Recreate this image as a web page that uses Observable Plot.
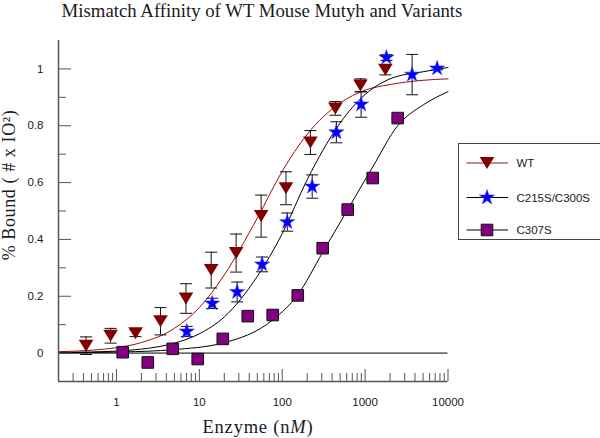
<!DOCTYPE html>
<html><head><meta charset="utf-8">
<script src="https://cdn.jsdelivr.net/npm/d3@7"></script>
<script src="https://cdn.jsdelivr.net/npm/@observablehq/plot@0.6"></script>
<style>
html,body{margin:0;padding:0;background:#fff;}
#wrap{position:relative;width:600px;height:438px;overflow:hidden;}
#wrap > svg{position:absolute;left:0;top:0;}
</style></head><body><div id="wrap"></div>
<script>
// ---- data ----
const seriesNames = ["WT", "C215S/C300S", "C307S"];

const wtConc  = [0.43, 0.85, 1.7, 3.4, 6.9, 13.9, 27.8, 55.7, 111, 219, 438, 878, 1757];
const wtBound = [0.026, 0.061, 0.07, 0.112, 0.192, 0.292, 0.352, 0.482, 0.58, 0.741, 0.861, 0.942, 0.997];
const wtErr   = [0.031, 0.026, 0.012, 0.048, 0.052, 0.063, 0.067, 0.074, 0.058, 0.042, 0.024, 0.023, 0.018];

const dmConc  = [7.05, 14.3, 28.6, 57.2, 115, 230, 450, 895, 1807, 3690, 7390];
const dmBound = [0.076, 0.175, 0.215, 0.312, 0.461, 0.586, 0.777, 0.875, 1.04, 0.98, 1.002];
const dmErr   = [0.018, 0.018, 0.035, 0.026, 0.032, 0.041, 0.037, 0.045, 0.01, 0.071, 0.005];

const c307Conc  = [1.19, 2.39, 4.78, 9.57, 19.2, 38.4, 76.8, 154, 308, 617, 1235, 2473];
const c307Bound = [0.003, -0.033, 0.015, -0.021, 0.05, 0.13, 0.134, 0.203, 0.369, 0.505, 0.616, 0.827];
const c307Err   = [0.004, 0.006, 0.004, 0.007, 0.005, 0.006, 0.004, 0.005, 0.006, 0.006, 0.006, 0.004];

// fitted curves
const wtFitConc  = [0.2, 0.5, 1, 2, 5, 10, 20, 50, 100, 200, 500, 1000, 2000, 5000, 10000];
const wtFitBound = [0.005, 0.01, 0.019, 0.037, 0.087, 0.16, 0.275, 0.475, 0.64, 0.77, 0.88, 0.925, 0.945, 0.96, 0.965];
const dmFitConc  = [0.2, 0.5, 1, 2, 5, 10, 20, 50, 100, 200, 500, 1000, 2000, 5000, 10000];
const dmFitBound = [0.002, 0.004, 0.007, 0.014, 0.035, 0.068, 0.127, 0.27, 0.42, 0.61, 0.81, 0.91, 0.965, 0.99, 1.005];
const c307FitConc  = [0.2, 1.2, 4.8, 19, 77, 154, 308, 617, 1235, 2470, 5000, 10000];
const c307FitBound = [0.001, 0.004, 0.012, 0.035, 0.117, 0.205, 0.355, 0.505, 0.655, 0.8, 0.873, 0.92];

const xMajorTicks = [1, 10, 100, 1000, 10000];
const xMinorTicks = [0.3, 0.4, 0.5, 0.6, 0.7, 0.8, 0.9,
  2, 3, 4, 5, 6, 7, 8, 9, 20, 30, 40, 50, 60, 70, 80, 90,
  200, 300, 400, 500, 600, 700, 800, 900, 2000, 3000, 4000, 5000, 6000, 7000, 8000, 9000];
const yMajorTicks = [0, 0.2, 0.4, 0.6, 0.8, 1];
const yMinorTicks = [0.1, 0.3, 0.5, 0.7, 0.9];

const titleText = "Mismatch Affinity of WT Mouse Mutyh and Variants";
const yLabelText = "% Bound ( # x IO\u00B2)";
const xLabelMain = "Enzyme (n";
const xLabelUnit = "M";

// ---- styling ----
const fillColors = {"WT": "#800000", "C215S/C300S": "#0000ff", "C307S": "#800080"};
const lineColors = {"WT": "#9a1010", "C215S/C300S": "#000000", "C307S": "#000000"};
const axisGray = "#555555";

const downTri = {draw(ctx) { const w = 14.6, h = 12; ctx.moveTo(-w/2, -h/2); ctx.lineTo(w/2, -h/2); ctx.lineTo(0, h/2); ctx.closePath(); }};
const starSym = {draw(ctx) { d3.symbolStar.draw(ctx, 70); }};
const squareSym = {draw(ctx) { const s = 5.8; ctx.rect(-s, -s, 2*s, 2*s); }};
const capSym = {draw(ctx) { ctx.moveTo(-6, 0); ctx.lineTo(6, 0); }};
const symbols = {"WT": downTri, "C215S/C300S": starSym, "C307S": squareSym};

const mk = (name, xs, ys, es) => xs.map((x, i) => ({series: name, x, y: ys[i], e: es[i]}));
const wtPts = mk("WT", wtConc, wtBound, wtErr);
const dmPts = mk("C215S/C300S", dmConc, dmBound, dmErr);
const c3Pts = mk("C307S", c307Conc, c307Bound, c307Err);
const allPts = [...wtPts, ...dmPts, ...c3Pts];
const fit = (xs, ys) => xs.map((x, i) => ({x, y: ys[i]}));

const plot = Plot.plot({
  width: 600, height: 438,
  marginLeft: 58, marginRight: 152.5, marginTop: 40, marginBottom: 57,
  style: {fontFamily: "'Liberation Sans', Arial, sans-serif", fontSize: "11.5px", color: "#1a1a1a", background: "transparent"},
  x: {type: "log", domain: [0.2, 10000]},
  y: {domain: [-0.1, 1.1]},
  marks: [
    Plot.ruleY([0], {stroke: "#707070", strokeWidth: 1.8}),
    Plot.line(fit(wtFitConc, wtFitBound), {x: "x", y: "y", stroke: lineColors["WT"], strokeWidth: 1, curve: "monotone-x"}),
    Plot.line(fit(dmFitConc, dmFitBound), {x: "x", y: "y", stroke: lineColors["C215S/C300S"], strokeWidth: 1, curve: "monotone-x"}),
    Plot.line(fit(c307FitConc, c307FitBound), {x: "x", y: "y", stroke: lineColors["C307S"], strokeWidth: 1, curve: "monotone-x"}),
    Plot.ruleX(allPts, {x: "x", y1: d => d.y - d.e, y2: d => d.y + d.e, stroke: "#111", strokeWidth: 1}),
    Plot.dot(allPts, {x: "x", y: d => d.y + d.e, symbol: capSym, r: 3, fill: "none", stroke: "#111", strokeWidth: 1}),
    Plot.dot(allPts, {x: "x", y: d => d.y - d.e, symbol: capSym, r: 3, fill: "none", stroke: "#111", strokeWidth: 1}),
    Plot.dot(wtPts, {x: "x", y: "y", symbol: downTri, r: 5, fill: fillColors["WT"], stroke: "none"}),
    Plot.dot(dmPts, {x: "x", y: "y", symbol: starSym, r: 5, fill: fillColors["C215S/C300S"], stroke: "#3030ff", strokeWidth: 0.6}),
    Plot.dot(c3Pts, {x: "x", y: "y", symbol: squareSym, r: 5, fill: fillColors["C307S"], stroke: "#111", strokeWidth: 1}),
    // axis frame lines
    Plot.ruleX([0.2], {stroke: axisGray, strokeWidth: 1.5}),
    Plot.ruleY([-0.1], {stroke: axisGray, strokeWidth: 1.5}),
    // inward tick marks
    Plot.axisX(xMajorTicks, {tickSize: 12, dy: -12, tickFormat: () => "", label: null, stroke: axisGray}),
    Plot.axisX(xMinorTicks, {tickSize: 8, dy: -8, tickFormat: () => "", label: null, stroke: axisGray}),
    Plot.axisY(yMajorTicks, {tickSize: 13, dx: 13, tickFormat: () => "", label: null, stroke: axisGray}),
    Plot.axisY(yMinorTicks, {tickSize: 8, dx: 8, tickFormat: () => "", label: null, stroke: axisGray}),
    // tick labels
    Plot.axisX(xMajorTicks, {tickSize: 0, tickPadding: 16, tickFormat: d => String(d), label: null, fill: "#1a1a1a"}),
    Plot.axisY(yMajorTicks, {tickSize: 0, tickPadding: 15, tickFormat: d => String(d), label: null, fill: "#1a1a1a"})
  ]
});
const wrap = document.getElementById("wrap");
wrap.appendChild(plot);

// ---- overlay: title, axis titles, legend ----
const ov = d3.select(wrap).append("svg").attr("width", 600).attr("height", 438);
const serif = "'Liberation Serif', 'Times New Roman', serif";
ov.append("text").attr("x", 262).attr("y", 17).attr("text-anchor", "middle")
  .attr("font-family", serif).attr("font-size", 18.8).attr("fill", "#1a1a1a").text(titleText);
ov.append("text").attr("transform", "translate(15,185) rotate(-90)").attr("text-anchor", "middle")
  .attr("font-family", serif).attr("font-size", 18).attr("letter-spacing", 0.6).attr("fill", "#1a1a1a").text(yLabelText);
const xl = ov.append("text").attr("x", 258).attr("y", 433).attr("text-anchor", "middle")
  .attr("font-family", serif).attr("font-size", 18.5).attr("letter-spacing", 0.8).attr("fill", "#1a1a1a");
xl.append("tspan").text(xLabelMain);
xl.append("tspan").attr("font-style", "italic").text(xLabelUnit);
xl.append("tspan").text(")");

ov.append("rect").attr("x", 458.5).attr("y", 143.5).attr("width", 160).attr("height", 96)
  .attr("fill", "none").attr("stroke", "#444").attr("stroke-width", 1);
const legendY = [163, 197.5, 230];
seriesNames.forEach((name, i) => {
  const y = legendY[i];
  ov.append("line").attr("x1", 466.5).attr("x2", 508).attr("y1", y).attr("y2", y)
    .attr("stroke", lineColors[name]).attr("stroke-width", 1);
  ov.append("path").attr("transform", `translate(487,${y})`)
    .attr("d", d3.symbol(symbols[name])())
    .attr("fill", fillColors[name])
    .attr("stroke", name === "C307S" ? "#111" : (name === "WT" ? "none" : "#3030ff"))
    .attr("stroke-width", name === "C307S" ? 1 : 0.6);
  ov.append("text").attr("x", 516.5).attr("y", y).attr("dy", "0.35em")
    .attr("font-family", "'Liberation Sans', Arial, sans-serif").attr("font-size", 11.5)
    .attr("fill", "#1a1a1a").text(name);
});
</script></body></html>
